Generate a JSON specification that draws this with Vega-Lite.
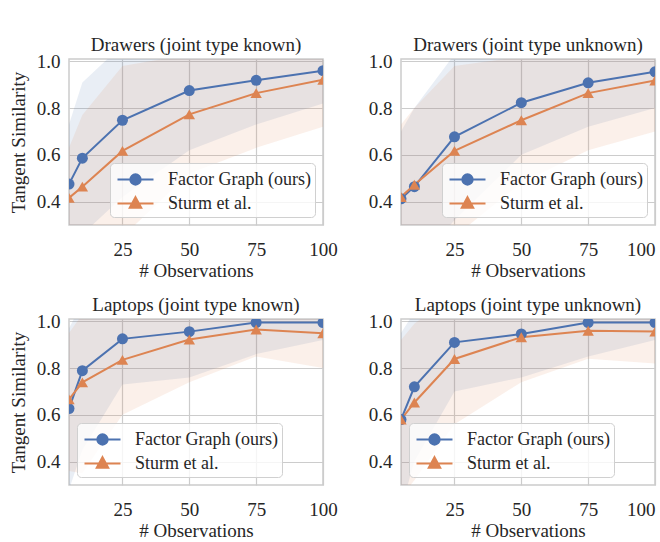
{
  "$schema": "https://vega.github.io/schema/vega-lite/v6.json",
  "background": "white",
  "padding": {"left": 8, "top": 35, "right": 0, "bottom": 0},
  "datasets": {
    "d": [
      {"panel": "DK", "series": "Factor Graph (ours)", "x": 5, "mean": 0.475, "lo": 0.22, "hi": 0.73},
      {"panel": "DK", "series": "Factor Graph (ours)", "x": 10, "mean": 0.586, "lo": 0.26, "hi": 0.91},
      {"panel": "DK", "series": "Factor Graph (ours)", "x": 25, "mean": 0.748, "lo": 0.42, "hi": 1.07},
      {"panel": "DK", "series": "Factor Graph (ours)", "x": 50, "mean": 0.875, "lo": 0.62, "hi": 1.13},
      {"panel": "DK", "series": "Factor Graph (ours)", "x": 75, "mean": 0.919, "lo": 0.73, "hi": 1.11},
      {"panel": "DK", "series": "Factor Graph (ours)", "x": 100, "mean": 0.96, "lo": 0.82, "hi": 1.10},
      {"panel": "DK", "series": "Sturm et al.", "x": 5, "mean": 0.416, "lo": 0.20, "hi": 0.63},
      {"panel": "DK", "series": "Sturm et al.", "x": 10, "mean": 0.464, "lo": 0.16, "hi": 0.77},
      {"panel": "DK", "series": "Sturm et al.", "x": 25, "mean": 0.617, "lo": 0.25, "hi": 0.98},
      {"panel": "DK", "series": "Sturm et al.", "x": 50, "mean": 0.773, "lo": 0.52, "hi": 1.03},
      {"panel": "DK", "series": "Sturm et al.", "x": 75, "mean": 0.864, "lo": 0.63, "hi": 1.10},
      {"panel": "DK", "series": "Sturm et al.", "x": 100, "mean": 0.921, "lo": 0.72, "hi": 1.12},

      {"panel": "DU", "series": "Factor Graph (ours)", "x": 5, "mean": 0.412, "lo": 0.12, "hi": 0.70},
      {"panel": "DU", "series": "Factor Graph (ours)", "x": 10, "mean": 0.464, "lo": 0.13, "hi": 0.80},
      {"panel": "DU", "series": "Factor Graph (ours)", "x": 25, "mean": 0.677, "lo": 0.32, "hi": 1.03},
      {"panel": "DU", "series": "Factor Graph (ours)", "x": 50, "mean": 0.823, "lo": 0.60, "hi": 1.05},
      {"panel": "DU", "series": "Factor Graph (ours)", "x": 75, "mean": 0.908, "lo": 0.72, "hi": 1.10},
      {"panel": "DU", "series": "Factor Graph (ours)", "x": 100, "mean": 0.955, "lo": 0.80, "hi": 1.11},
      {"panel": "DU", "series": "Sturm et al.", "x": 5, "mean": 0.42, "lo": 0.11, "hi": 0.73},
      {"panel": "DU", "series": "Sturm et al.", "x": 10, "mean": 0.472, "lo": 0.14, "hi": 0.80},
      {"panel": "DU", "series": "Sturm et al.", "x": 25, "mean": 0.617, "lo": 0.25, "hi": 0.98},
      {"panel": "DU", "series": "Sturm et al.", "x": 50, "mean": 0.748, "lo": 0.48, "hi": 1.02},
      {"panel": "DU", "series": "Sturm et al.", "x": 75, "mean": 0.864, "lo": 0.62, "hi": 1.11},
      {"panel": "DU", "series": "Sturm et al.", "x": 100, "mean": 0.918, "lo": 0.70, "hi": 1.14},

      {"panel": "LK", "series": "Factor Graph (ours)", "x": 5, "mean": 0.627, "lo": 0.28, "hi": 0.97},
      {"panel": "LK", "series": "Factor Graph (ours)", "x": 10, "mean": 0.789, "lo": 0.45, "hi": 1.08},
      {"panel": "LK", "series": "Factor Graph (ours)", "x": 25, "mean": 0.925, "lo": 0.73, "hi": 1.12},
      {"panel": "LK", "series": "Factor Graph (ours)", "x": 50, "mean": 0.956, "lo": 0.76, "hi": 1.15},
      {"panel": "LK", "series": "Factor Graph (ours)", "x": 75, "mean": 0.995, "lo": 0.86, "hi": 1.14},
      {"panel": "LK", "series": "Factor Graph (ours)", "x": 100, "mean": 0.995, "lo": 0.92, "hi": 1.08},
      {"panel": "LK", "series": "Sturm et al.", "x": 5, "mean": 0.666, "lo": 0.36, "hi": 0.95},
      {"panel": "LK", "series": "Sturm et al.", "x": 10, "mean": 0.739, "lo": 0.35, "hi": 1.03},
      {"panel": "LK", "series": "Sturm et al.", "x": 25, "mean": 0.835, "lo": 0.60, "hi": 1.07},
      {"panel": "LK", "series": "Sturm et al.", "x": 50, "mean": 0.922, "lo": 0.74, "hi": 1.10},
      {"panel": "LK", "series": "Sturm et al.", "x": 75, "mean": 0.965, "lo": 0.85, "hi": 1.08},
      {"panel": "LK", "series": "Sturm et al.", "x": 100, "mean": 0.949, "lo": 0.80, "hi": 1.10},

      {"panel": "LU", "series": "Factor Graph (ours)", "x": 5, "mean": 0.58, "lo": 0.20, "hi": 0.95},
      {"panel": "LU", "series": "Factor Graph (ours)", "x": 10, "mean": 0.72, "lo": 0.40, "hi": 1.04},
      {"panel": "LU", "series": "Factor Graph (ours)", "x": 25, "mean": 0.91, "lo": 0.70, "hi": 1.12},
      {"panel": "LU", "series": "Factor Graph (ours)", "x": 50, "mean": 0.946, "lo": 0.76, "hi": 1.13},
      {"panel": "LU", "series": "Factor Graph (ours)", "x": 75, "mean": 0.995, "lo": 0.85, "hi": 1.15},
      {"panel": "LU", "series": "Factor Graph (ours)", "x": 100, "mean": 0.995, "lo": 0.92, "hi": 1.08},
      {"panel": "LU", "series": "Sturm et al.", "x": 5, "mean": 0.58, "lo": 0.25, "hi": 0.92},
      {"panel": "LU", "series": "Sturm et al.", "x": 10, "mean": 0.653, "lo": 0.32, "hi": 0.99},
      {"panel": "LU", "series": "Sturm et al.", "x": 25, "mean": 0.839, "lo": 0.56, "hi": 1.12},
      {"panel": "LU", "series": "Sturm et al.", "x": 50, "mean": 0.932, "lo": 0.74, "hi": 1.12},
      {"panel": "LU", "series": "Sturm et al.", "x": 75, "mean": 0.96, "lo": 0.84, "hi": 1.08},
      {"panel": "LU", "series": "Sturm et al.", "x": 100, "mean": 0.956, "lo": 0.82, "hi": 1.09}
    ]
  },
  "config": {
    "font": "Liberation Serif",
    "view": {"stroke": "#cccccc", "strokeWidth": 1.5},
    "style": {
      "guide-label": {"font": "Liberation Serif", "fontSize": 19, "fill": "#262626"},
      "guide-title": {"font": "Liberation Serif", "fontSize": 19, "fontWeight": "normal", "fill": "#262626"},
      "group-title": {"font": "Liberation Serif", "fontSize": 19, "fontWeight": "normal", "fill": "#262626"}
    },
    "axis": {
      "grid": true, "gridColor": "#cccccc", "gridWidth": 1.2,
      "domain": false, "ticks": false, "labelFlush": false,
      "labelFont": "Liberation Serif", "labelFontSize": 19, "labelColor": "#262626", "labelPadding": 9,
      "titleFont": "Liberation Serif", "titleFontSize": 19, "titleFontWeight": "normal", "titleColor": "#262626"
    },
    "axisX": {"titlePadding": 2, "labelPadding": 15, "labelFlush": false},
    "axisY": {"titlePadding": 8},
    "title": {"font": "Liberation Serif", "fontSize": 19, "fontWeight": "normal", "color": "#262626", "offset": -3, "anchor": "middle"},
    "legend": {
      "title": null, "labelFont": "Liberation Serif", "labelFontSize": 18, "labelColor": "#262626",
      "fillColor": "rgba(255,255,255,0.8)", "strokeColor": "#d0d0d0", "cornerRadius": 4,
      "padding": 4, "symbolSize": 529, "symbolStrokeWidth": 2, "symbolOpacity": 1,
      "symbolOffset": 9, "labelOffset": 20, "rowPadding": 2, "offset": 8
    }
  },
  "columns": 2,
  "spacing": {"row": 14, "column": 29},
  "resolve": {
    "scale": {"color": "independent", "stroke": "independent", "shape": "independent"},
    "legend": {"color": "independent", "stroke": "independent", "shape": "independent"}
  },
  "concat": [
    {
      "width": 254, "height": 166,
      "title": "Drawers (joint type known)",
      "data": {"name": "d"},
      "transform": [{"filter": "datum.panel === 'DK'"}],
      "encoding": {
        "x": {"field": "x", "type": "quantitative", "scale": {"domain": [5, 100], "nice": false, "zero": false}, "axis": {"values": [25, 50, 75, 100], "title": "# Observations", "labelFlush": false}}
      },
      "layer": [
        {"transform": [{"filter": "datum.series === 'Factor Graph (ours)'"}], "mark": {"type": "area", "clip": true, "color": "#4c72b0", "opacity": 0.12},
         "encoding": {"y": {"field": "lo", "type": "quantitative", "scale": {"domain": [0.3, 1.01], "nice": false, "zero": false}, "axis": {"values": [0.4, 0.6, 0.8, 1.0], "format": ".1f", "title": "Tangent Similarity"}}, "y2": {"field": "hi"}}},
        {"transform": [{"filter": "datum.series === 'Sturm et al.'"}], "mark": {"type": "area", "clip": true, "color": "#dd8452", "opacity": 0.12},
         "encoding": {"y": {"field": "lo", "type": "quantitative"}, "y2": {"field": "hi"}}},
        {"transform": [{"filter": "datum.series === 'Factor Graph (ours)'"}], "mark": {"type": "line", "clip": true, "color": "#4c72b0", "strokeWidth": 2},
         "encoding": {"y": {"field": "mean", "type": "quantitative"}}},
        {"transform": [{"filter": "datum.series === 'Sturm et al.'"}], "mark": {"type": "line", "clip": true, "color": "#dd8452", "strokeWidth": 2},
         "encoding": {"y": {"field": "mean", "type": "quantitative"}}},
        {"transform": [{"filter": "datum.series === 'Factor Graph (ours)'"}], "mark": {"type": "point", "shape": "circle", "filled": true, "clip": true, "color": "#4c72b0", "size": 121, "opacity": 1},
         "encoding": {"y": {"field": "mean", "type": "quantitative"}}},
        {"transform": [{"filter": "datum.series === 'Sturm et al.'"}], "mark": {"type": "point", "shape": "triangle-up", "filled": true, "clip": true, "color": "#dd8452", "size": 130, "opacity": 1},
         "encoding": {"y": {"field": "mean", "type": "quantitative"}}},
        {"mark": {"type": "point", "filled": true, "opacity": 0},
         "encoding": {
           "y": {"field": "mean", "type": "quantitative"},
           "color": {"field": "series", "type": "nominal", "scale": {"domain": ["Factor Graph (ours)", "Sturm et al."], "range": ["#4c72b0", "#dd8452"]}, "legend": {"orient": "bottom-right"}},
           "stroke": {"field": "series", "type": "nominal", "scale": {"domain": ["Factor Graph (ours)", "Sturm et al."], "range": ["#4c72b0", "#dd8452"]}, "legend": {"orient": "bottom-right"}},
           "shape": {"field": "series", "type": "nominal", "scale": {"domain": ["Factor Graph (ours)", "Sturm et al."], "range": ["M-1.565,0H1.565M0.45,0A0.45,0.45,0,1,1,-0.45,0A0.45,0.45,0,1,1,0.45,0Z", "M-1.565,0H1.565M0,-0.55L0.5,0.38L-0.5,0.38Z"]}, "legend": {"orient": "bottom-right"}}
         }}
      ]
    },
    {
      "width": 254, "height": 166,
      "title": "Drawers (joint type unknown)",
      "data": {"name": "d"},
      "transform": [{"filter": "datum.panel === 'DU'"}],
      "encoding": {
        "x": {"field": "x", "type": "quantitative", "scale": {"domain": [5, 100], "nice": false, "zero": false}, "axis": {"values": [25, 50, 75, 100], "title": "# Observations", "labelFlush": true}}
      },
      "layer": [
        {"transform": [{"filter": "datum.series === 'Factor Graph (ours)'"}], "mark": {"type": "area", "clip": true, "color": "#4c72b0", "opacity": 0.12},
         "encoding": {"y": {"field": "lo", "type": "quantitative", "scale": {"domain": [0.3, 1.01], "nice": false, "zero": false}, "axis": {"values": [0.4, 0.6, 0.8, 1.0], "format": ".1f", "title": null}}, "y2": {"field": "hi"}}},
        {"transform": [{"filter": "datum.series === 'Sturm et al.'"}], "mark": {"type": "area", "clip": true, "color": "#dd8452", "opacity": 0.12},
         "encoding": {"y": {"field": "lo", "type": "quantitative"}, "y2": {"field": "hi"}}},
        {"transform": [{"filter": "datum.series === 'Factor Graph (ours)'"}], "mark": {"type": "line", "clip": true, "color": "#4c72b0", "strokeWidth": 2},
         "encoding": {"y": {"field": "mean", "type": "quantitative"}}},
        {"transform": [{"filter": "datum.series === 'Sturm et al.'"}], "mark": {"type": "line", "clip": true, "color": "#dd8452", "strokeWidth": 2},
         "encoding": {"y": {"field": "mean", "type": "quantitative"}}},
        {"transform": [{"filter": "datum.series === 'Factor Graph (ours)'"}], "mark": {"type": "point", "shape": "circle", "filled": true, "clip": true, "color": "#4c72b0", "size": 121, "opacity": 1},
         "encoding": {"y": {"field": "mean", "type": "quantitative"}}},
        {"transform": [{"filter": "datum.series === 'Sturm et al.'"}], "mark": {"type": "point", "shape": "triangle-up", "filled": true, "clip": true, "color": "#dd8452", "size": 130, "opacity": 1},
         "encoding": {"y": {"field": "mean", "type": "quantitative"}}},
        {"mark": {"type": "point", "filled": true, "opacity": 0},
         "encoding": {
           "y": {"field": "mean", "type": "quantitative"},
           "color": {"field": "series", "type": "nominal", "scale": {"domain": ["Factor Graph (ours)", "Sturm et al."], "range": ["#4c72b0", "#dd8452"]}, "legend": {"orient": "bottom-right"}},
           "stroke": {"field": "series", "type": "nominal", "scale": {"domain": ["Factor Graph (ours)", "Sturm et al."], "range": ["#4c72b0", "#dd8452"]}, "legend": {"orient": "bottom-right"}},
           "shape": {"field": "series", "type": "nominal", "scale": {"domain": ["Factor Graph (ours)", "Sturm et al."], "range": ["M-1.565,0H1.565M0.45,0A0.45,0.45,0,1,1,-0.45,0A0.45,0.45,0,1,1,0.45,0Z", "M-1.565,0H1.565M0,-0.55L0.5,0.38L-0.5,0.38Z"]}, "legend": {"orient": "bottom-right"}}
         }}
      ]
    },
    {
      "width": 254, "height": 166,
      "title": "Laptops (joint type known)",
      "data": {"name": "d"},
      "transform": [{"filter": "datum.panel === 'LK'"}],
      "encoding": {
        "x": {"field": "x", "type": "quantitative", "scale": {"domain": [5, 100], "nice": false, "zero": false}, "axis": {"values": [25, 50, 75, 100], "title": "# Observations", "labelFlush": false}}
      },
      "layer": [
        {"transform": [{"filter": "datum.series === 'Factor Graph (ours)'"}], "mark": {"type": "area", "clip": true, "color": "#4c72b0", "opacity": 0.12},
         "encoding": {"y": {"field": "lo", "type": "quantitative", "scale": {"domain": [0.3, 1.01], "nice": false, "zero": false}, "axis": {"values": [0.4, 0.6, 0.8, 1.0], "format": ".1f", "title": "Tangent Similarity"}}, "y2": {"field": "hi"}}},
        {"transform": [{"filter": "datum.series === 'Sturm et al.'"}], "mark": {"type": "area", "clip": true, "color": "#dd8452", "opacity": 0.12},
         "encoding": {"y": {"field": "lo", "type": "quantitative"}, "y2": {"field": "hi"}}},
        {"transform": [{"filter": "datum.series === 'Factor Graph (ours)'"}], "mark": {"type": "line", "clip": true, "color": "#4c72b0", "strokeWidth": 2},
         "encoding": {"y": {"field": "mean", "type": "quantitative"}}},
        {"transform": [{"filter": "datum.series === 'Sturm et al.'"}], "mark": {"type": "line", "clip": true, "color": "#dd8452", "strokeWidth": 2},
         "encoding": {"y": {"field": "mean", "type": "quantitative"}}},
        {"transform": [{"filter": "datum.series === 'Factor Graph (ours)'"}], "mark": {"type": "point", "shape": "circle", "filled": true, "clip": true, "color": "#4c72b0", "size": 121, "opacity": 1},
         "encoding": {"y": {"field": "mean", "type": "quantitative"}}},
        {"transform": [{"filter": "datum.series === 'Sturm et al.'"}], "mark": {"type": "point", "shape": "triangle-up", "filled": true, "clip": true, "color": "#dd8452", "size": 130, "opacity": 1},
         "encoding": {"y": {"field": "mean", "type": "quantitative"}}},
        {"mark": {"type": "point", "filled": true, "opacity": 0},
         "encoding": {
           "y": {"field": "mean", "type": "quantitative"},
           "color": {"field": "series", "type": "nominal", "scale": {"domain": ["Factor Graph (ours)", "Sturm et al."], "range": ["#4c72b0", "#dd8452"]}, "legend": {"orient": "bottom-left"}},
           "stroke": {"field": "series", "type": "nominal", "scale": {"domain": ["Factor Graph (ours)", "Sturm et al."], "range": ["#4c72b0", "#dd8452"]}, "legend": {"orient": "bottom-left"}},
           "shape": {"field": "series", "type": "nominal", "scale": {"domain": ["Factor Graph (ours)", "Sturm et al."], "range": ["M-1.565,0H1.565M0.45,0A0.45,0.45,0,1,1,-0.45,0A0.45,0.45,0,1,1,0.45,0Z", "M-1.565,0H1.565M0,-0.55L0.5,0.38L-0.5,0.38Z"]}, "legend": {"orient": "bottom-left"}}
         }}
      ]
    },
    {
      "width": 254, "height": 166,
      "title": "Laptops (joint type unknown)",
      "data": {"name": "d"},
      "transform": [{"filter": "datum.panel === 'LU'"}],
      "encoding": {
        "x": {"field": "x", "type": "quantitative", "scale": {"domain": [5, 100], "nice": false, "zero": false}, "axis": {"values": [25, 50, 75, 100], "title": "# Observations", "labelFlush": true}}
      },
      "layer": [
        {"transform": [{"filter": "datum.series === 'Factor Graph (ours)'"}], "mark": {"type": "area", "clip": true, "color": "#4c72b0", "opacity": 0.12},
         "encoding": {"y": {"field": "lo", "type": "quantitative", "scale": {"domain": [0.3, 1.01], "nice": false, "zero": false}, "axis": {"values": [0.4, 0.6, 0.8, 1.0], "format": ".1f", "title": null}}, "y2": {"field": "hi"}}},
        {"transform": [{"filter": "datum.series === 'Sturm et al.'"}], "mark": {"type": "area", "clip": true, "color": "#dd8452", "opacity": 0.12},
         "encoding": {"y": {"field": "lo", "type": "quantitative"}, "y2": {"field": "hi"}}},
        {"transform": [{"filter": "datum.series === 'Factor Graph (ours)'"}], "mark": {"type": "line", "clip": true, "color": "#4c72b0", "strokeWidth": 2},
         "encoding": {"y": {"field": "mean", "type": "quantitative"}}},
        {"transform": [{"filter": "datum.series === 'Sturm et al.'"}], "mark": {"type": "line", "clip": true, "color": "#dd8452", "strokeWidth": 2},
         "encoding": {"y": {"field": "mean", "type": "quantitative"}}},
        {"transform": [{"filter": "datum.series === 'Factor Graph (ours)'"}], "mark": {"type": "point", "shape": "circle", "filled": true, "clip": true, "color": "#4c72b0", "size": 121, "opacity": 1},
         "encoding": {"y": {"field": "mean", "type": "quantitative"}}},
        {"transform": [{"filter": "datum.series === 'Sturm et al.'"}], "mark": {"type": "point", "shape": "triangle-up", "filled": true, "clip": true, "color": "#dd8452", "size": 130, "opacity": 1},
         "encoding": {"y": {"field": "mean", "type": "quantitative"}}},
        {"mark": {"type": "point", "filled": true, "opacity": 0},
         "encoding": {
           "y": {"field": "mean", "type": "quantitative"},
           "color": {"field": "series", "type": "nominal", "scale": {"domain": ["Factor Graph (ours)", "Sturm et al."], "range": ["#4c72b0", "#dd8452"]}, "legend": {"orient": "bottom-left"}},
           "stroke": {"field": "series", "type": "nominal", "scale": {"domain": ["Factor Graph (ours)", "Sturm et al."], "range": ["#4c72b0", "#dd8452"]}, "legend": {"orient": "bottom-left"}},
           "shape": {"field": "series", "type": "nominal", "scale": {"domain": ["Factor Graph (ours)", "Sturm et al."], "range": ["M-1.565,0H1.565M0.45,0A0.45,0.45,0,1,1,-0.45,0A0.45,0.45,0,1,1,0.45,0Z", "M-1.565,0H1.565M0,-0.55L0.5,0.38L-0.5,0.38Z"]}, "legend": {"orient": "bottom-left"}}
         }}
      ]
    }
  ]
}
